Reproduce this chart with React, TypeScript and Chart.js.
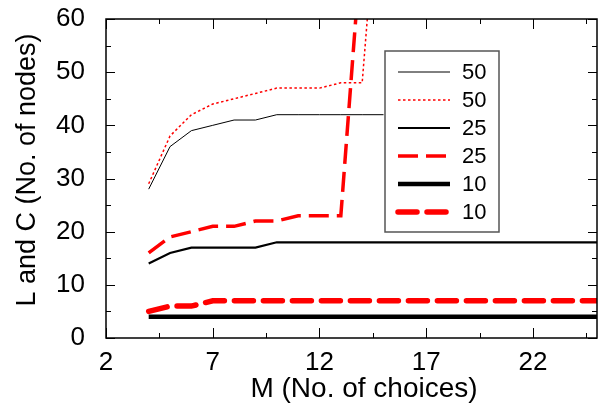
import React, { useEffect, useRef } from "react";
import { Chart, registerables } from "chart.js";

Chart.register(...registerables);

const M = [4, 5, 6, 7, 8, 9, 10, 11, 12, 13, 14, 15, 16, 17, 18, 19, 20, 21, 22, 23, 24, 25];
const L50 = [28, 36, 39, 40, 41, 41, 42, 42, 42, 42, 42, 42];
const C50 = [29, 38, 42, 44, 45, 46, 47, 47, 47, 48, 48, 98];
const L25 = [14, 16, 17, 17, 17, 17, 18, 18, 18, 18, 18, 18, 18, 18, 18, 18, 18, 18, 18, 18, 18, 18];
const C25 = [16, 19, 20, 21, 21, 22, 22, 23, 23, 23, 76];
const L10 = [4, 4, 4, 4, 4, 4, 4, 4, 4, 4, 4, 4, 4, 4, 4, 4, 4, 4, 4, 4, 4, 4];
const C10 = [5, 6, 6, 7, 7, 7, 7, 7, 7, 7, 7, 7, 7, 7, 7, 7, 7, 7, 7, 7, 7, 7];
const LEGEND = ["50", "50", "25", "25", "10", "10"];
const X_TITLE = "M (No. of choices)";
const Y_TITLE = "L and C (No. of nodes)";
const X_TICKS = [2, 7, 12, 17, 22];
const X_MINOR = [4.5, 9.5, 14.5, 19.5, 24.5];
const Y_TICKS = [0, 10, 20, 30, 40, 50, 60];
const Y_MINOR = [5, 15, 25, 35, 45, 55];

const FONT = "'Liberation Sans', Arial, Helvetica, sans-serif";

const pts = (ys: number[]) => ys.map((y, i) => ({ x: M[i], y }));

const framePlugin = {
  id: "frameTicks",
  afterDraw(chart: any) {
    const { ctx, chartArea: a, scales } = chart;
    const xs = scales.x;
    const ys = scales.y;
    ctx.save();
    ctx.strokeStyle = "#000";
    ctx.lineWidth = 1.5;
    ctx.strokeRect(a.left, a.top, a.right - a.left, a.bottom - a.top);
    ctx.lineWidth = 1;
    const tickX = (v: number, len: number) => {
      const p = Math.round(xs.getPixelForValue(v)) + 0.5;
      ctx.beginPath();
      ctx.moveTo(p, a.bottom);
      ctx.lineTo(p, a.bottom - len);
      ctx.moveTo(p, a.top);
      ctx.lineTo(p, a.top + len);
      ctx.stroke();
    };
    const tickY = (v: number, len: number) => {
      const p = Math.round(ys.getPixelForValue(v)) + 0.5;
      ctx.beginPath();
      ctx.moveTo(a.left, p);
      ctx.lineTo(a.left + len, p);
      ctx.moveTo(a.right, p);
      ctx.lineTo(a.right - len, p);
      ctx.stroke();
    };
    X_TICKS.forEach((v) => tickX(v, 10));
    X_MINOR.forEach((v) => tickX(v, 5));
    Y_TICKS.forEach((v) => tickY(v, 9));
    Y_MINOR.forEach((v) => tickY(v, 5));

    // axis titles
    ctx.fillStyle = "#000";
    ctx.textAlign = "center";
    ctx.textBaseline = "middle";
    ctx.font = `28px ${FONT}`;
    ctx.fillText(X_TITLE, 364, 389);
    ctx.save();
    ctx.translate(28, 170);
    ctx.rotate(-Math.PI / 2);
    ctx.font = `27px ${FONT}`;
    ctx.fillText(Y_TITLE, 0, 0);
    ctx.restore();

    // legend
    const bx = 385, by = 51, bw = 114, bh = 181;
    ctx.fillStyle = "#fff";
    ctx.fillRect(bx, by, bw, bh);
    ctx.strokeStyle = "#555";
    ctx.lineWidth = 1.5;
    ctx.strokeRect(bx, by, bw, bh);
    chart.data.datasets.forEach((ds: any, i: number) => {
      const y = 72 + i * 28;
      ctx.save();
      ctx.strokeStyle = ds.borderColor;
      ctx.lineWidth = ds.borderWidth;
      ctx.lineCap = ds.borderCapStyle || "butt";
      ctx.setLineDash(ds.borderDash || []);
      ctx.beginPath();
      ctx.moveTo(398, y);
      ctx.lineTo(450, y);
      ctx.stroke();
      ctx.restore();
      ctx.fillStyle = "#000";
      ctx.font = `22px ${FONT}`;
      ctx.textBaseline = "middle";
      ctx.textAlign = "left";
      ctx.fillText(LEGEND[i], 462, y + 1);
    });
    ctx.restore();
  },
};

export default function App() {
  const ref = useRef<HTMLCanvasElement | null>(null);
  useEffect(() => {
    if (!ref.current) return;
    const common = { pointRadius: 0, tension: 0, fill: false };
    const chart = new Chart(ref.current, {
      type: "line",
      data: {
        datasets: [
          { ...common, label: LEGEND[0], data: pts(L50), borderColor: "#000", borderWidth: 1 },
          { ...common, label: LEGEND[1], data: pts(C50), borderColor: "#ff0000", borderWidth: 1.5, borderDash: [2.5, 2.5] },
          { ...common, label: LEGEND[2], data: pts(L25), borderColor: "#000", borderWidth: 2.2 },
          { ...common, label: LEGEND[3], data: pts(C25), borderColor: "#ff0000", borderWidth: 3.5, borderDash: [20, 8] },
          { ...common, label: LEGEND[4], data: pts(L10), borderColor: "#000", borderWidth: 4.5 },
          { ...common, label: LEGEND[5], data: pts(C10), borderColor: "#ff0000", borderWidth: 5.5, borderDash: [19, 10], borderCapStyle: "round" },
        ] as any,
      },
      options: {
        responsive: false,
        animation: false,
        layout: { padding: { top: 0, right: 5, left: 0, bottom: 0 } },
        plugins: { legend: { display: false }, tooltip: { enabled: false } },
        scales: {
          x: {
            type: "linear",
            min: 2,
            max: 25,
            grid: { display: false, drawTicks: false },
            border: { display: false },
            afterBuildTicks: (s: any) => {
              s.ticks = X_TICKS.map((v) => ({ value: v }));
            },
            afterFit: (s: any) => {
              s.height = 77;
            },
            ticks: { color: "#000", font: { family: FONT, size: 26 }, padding: 9, maxRotation: 0, autoSkip: false },
          },
          y: {
            type: "linear",
            min: 0,
            max: 60,
            grid: { display: false, drawTicks: false },
            border: { display: false },
            afterBuildTicks: (s: any) => {
              s.ticks = Y_TICKS.map((v) => ({ value: v }));
            },
            afterFit: (s: any) => {
              s.width = 106;
              s.paddingTop = 19;
              s.paddingBottom = 0;
            },
            ticks: { color: "#000", font: { family: FONT, size: 26 }, padding: 21 },
          },
        },
      },
      plugins: [framePlugin],
    });
    return () => chart.destroy();
  }, []);
  return (
    <div style={{ position: "absolute", left: 0, top: 0, width: 602, height: 415, background: "#fff" }}>
      <canvas ref={ref} width={602} height={415} style={{ width: 602, height: 415, display: "block" }} />
    </div>
  );
}
